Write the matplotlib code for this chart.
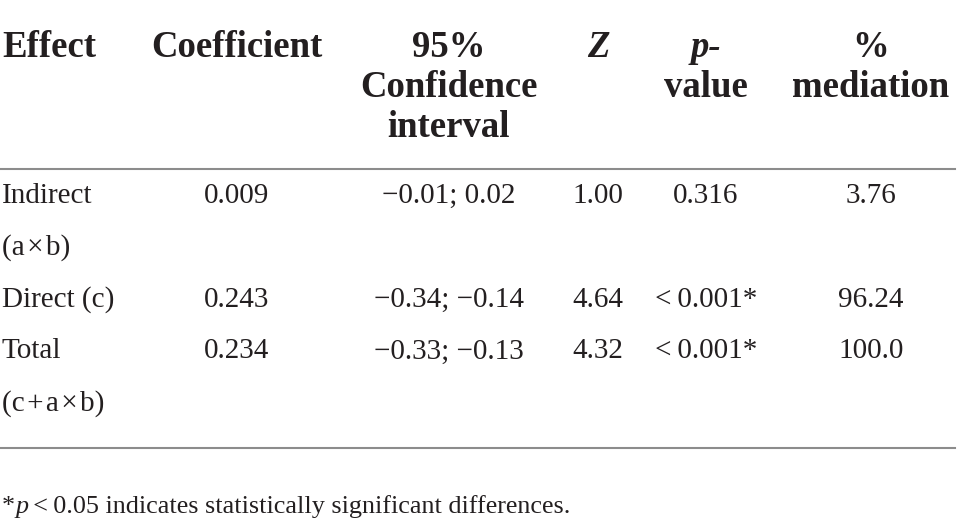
import matplotlib
matplotlib.use("Agg")
import matplotlib.pyplot as plt

plt.rcParams['font.family'] = ['Liberation Serif', 'DejaVu Serif']

# table content
effects = ["Indirect\n(a\u200a×\u200ab)", "Direct (c)", "Total\n(c\u200a+\u200aa\u200a×\u200ab)"]
coefficients = ["0.009", "0.243", "0.234"]
conf_int = ["\u22120.01; 0.02", "\u22120.34; \u22120.14", "\u22120.33; \u22120.13"]
z_values = ["1.00", "4.64", "4.32"]
p_values = ["0.316", "<\u20090.001*", "<\u20090.001*"]
mediation = ["3.76", "96.24", "100.0"]
footnote = "\u2009<\u20090.05 indicates statistically significant differences."

W, H = 957, 532
fig = plt.figure(figsize=(W / 100, H / 100), dpi=100)
ax = fig.add_axes([0, 0, 1, 1])
ax.set_xlim(0, W)
ax.set_ylim(H, 0)
ax.axis('off')

txt = '#231f20'
rule = '#8c8c8c'
hsize = 26.5
bsize = 21
head_y = [57, 97, 137]
lh_body = 51.8

# column centres
cx = {'coef': 237, 'ci': 449, 'z': 598, 'p': 706, 'med': 871}


def head(x, y, s, ha='center', italic=False):
    ax.text(x, y, s, fontsize=hsize, fontweight='bold', style='italic' if italic else 'normal',
            color=txt, va='baseline', ha=ha)


head(2, head_y[0], "Effect", ha='left')
head(cx['coef'], head_y[0], "Coefficient")
head(cx['ci'], head_y[0], "95%")
head(cx['ci'], head_y[1], "Confidence")
head(cx['ci'], head_y[2], "interval")
head(cx['z'], head_y[0], "Z", italic=True)
head(cx['p'], head_y[0], "p-", italic=True)
head(cx['p'], head_y[1], "value")
head(cx['med'], head_y[0], "%")
head(cx['med'], head_y[1], "mediation")

ax.plot([0, 955], [169, 169], color=rule, lw=1.5)

# body rows
y = 203
for i in range(len(effects)):
    lines = effects[i].split("\n")
    for j, ln in enumerate(lines):
        ax.text(2, y + j * lh_body, ln, fontsize=bsize, color=txt, va='baseline', ha='left')
    ax.text(cx['coef'], y, coefficients[i], fontsize=bsize, color=txt, va='baseline', ha='center')
    ax.text(cx['ci'], y, conf_int[i], fontsize=bsize, color=txt, va='baseline', ha='center')
    ax.text(cx['z'], y, z_values[i], fontsize=bsize, color=txt, va='baseline', ha='center')
    ax.text(cx['p'], y, p_values[i], fontsize=bsize, color=txt, va='baseline', ha='center')
    ax.text(cx['med'], y, mediation[i], fontsize=bsize, color=txt, va='baseline', ha='center')
    y += lh_body * len(lines)

ax.plot([0, 955], [448, 448], color=rule, lw=1.5)

# footnote
fsize = 18.8
fy = 513
fig.canvas.draw()
r = fig.canvas.get_renderer()
t1 = ax.text(2, fy, "*", fontsize=fsize, color=txt, va='baseline', ha='left')
x = t1.get_window_extent(r).x1
t2 = ax.text(x, fy, "p", fontsize=fsize, style='italic', color=txt, va='baseline', ha='left')
x = t2.get_window_extent(r).x1
ax.text(x, fy, footnote, fontsize=fsize, color=txt, va='baseline', ha='left')

fig.savefig("out.png", dpi=100)
